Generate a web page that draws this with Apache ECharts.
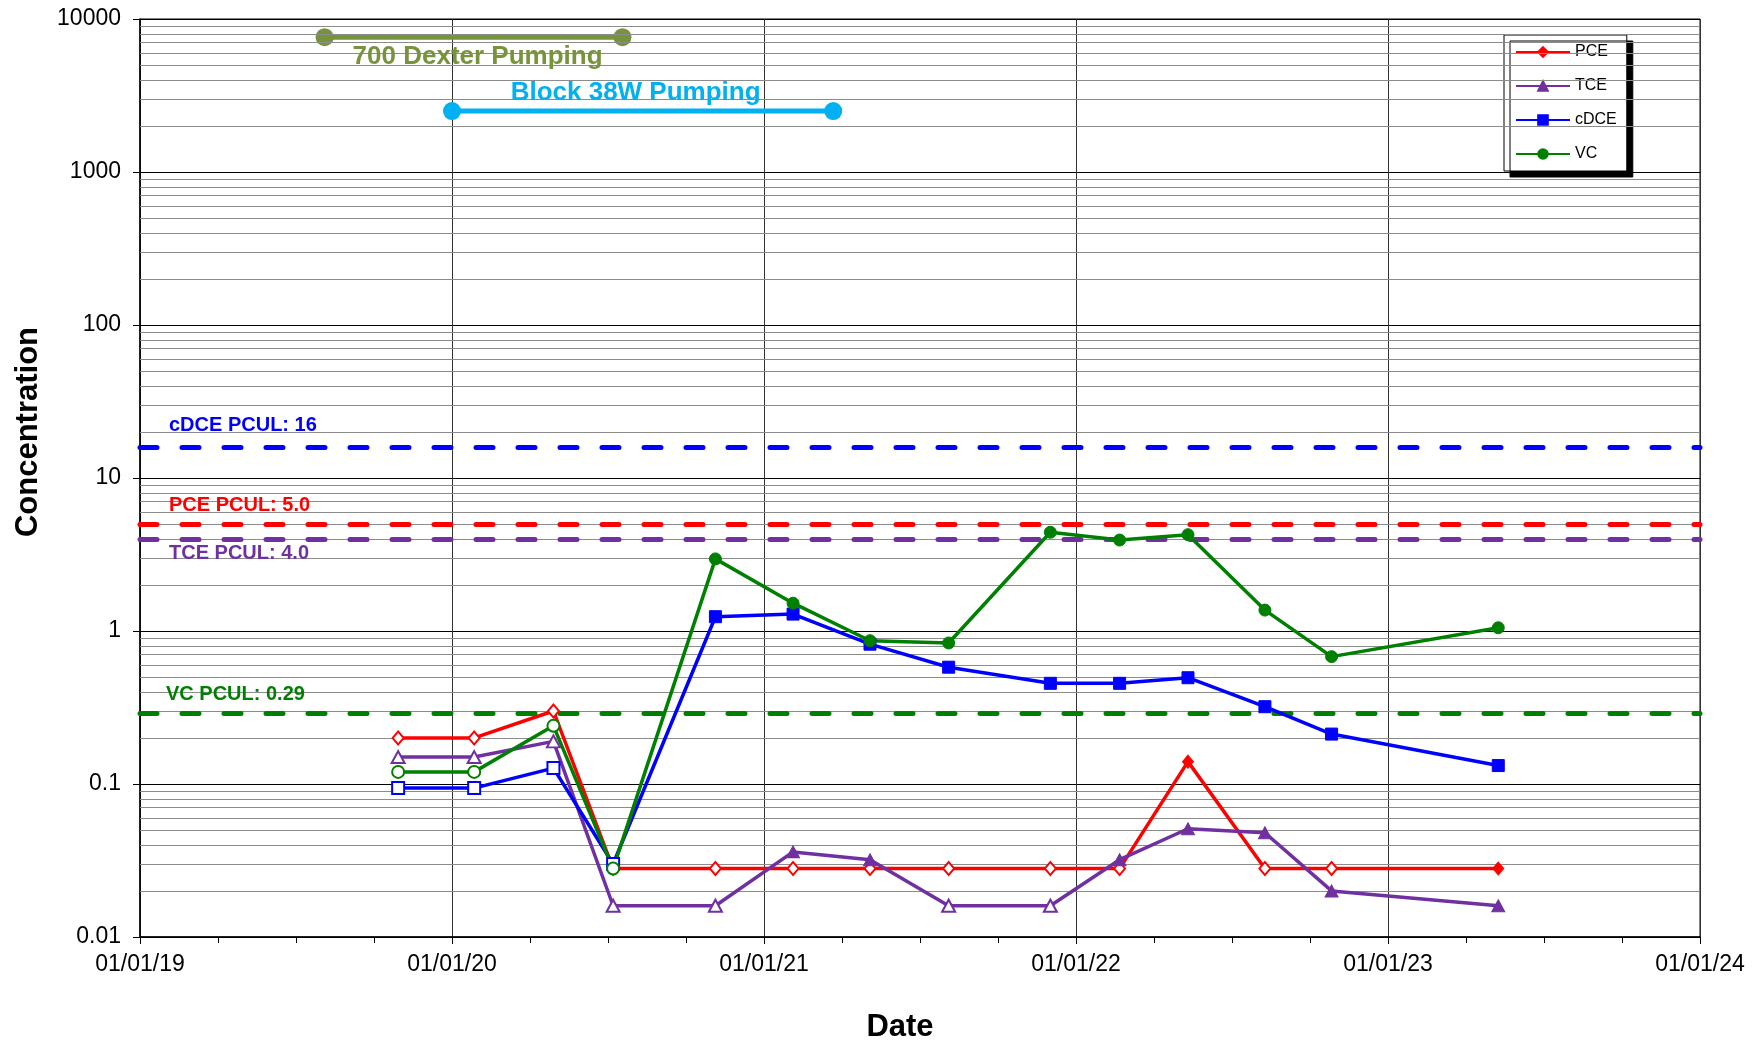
<!DOCTYPE html>
<html>
<head>
<meta charset="utf-8">
<script src="https://cdn.jsdelivr.net/npm/echarts@6/dist/echarts.min.js"></script>
<style>
html,body{margin:0;padding:0;background:#fff;}
#chart{width:1759px;height:1042px;}
</style>
</head>
<body>
<div id="chart"></div>
<script>
// ---------- data ----------
const sampleDates = ['2019-10-30','2020-01-27','2020-04-29','2020-07-08','2020-11-05','2021-02-04','2021-05-05','2021-08-05','2021-12-02','2022-02-21','2022-05-12','2022-08-10','2022-10-27','2023-05-10'];
const pceValues  = [0.20, 0.20, 0.30, 0.028, 0.028, 0.028, 0.028, 0.028, 0.028, 0.028, 0.14, 0.028, 0.028, 0.028];
const pceDetect  = [0, 0, 0, 0, 0, 0, 0, 0, 0, 0, 1, 0, 0, 1];
const tceValues  = [0.15, 0.15, 0.19, 0.016, 0.016, 0.036, 0.032, 0.016, 0.016, 0.032, 0.051, 0.048, 0.020, 0.016];
const tceDetect  = [0, 0, 0, 0, 0, 1, 1, 0, 0, 1, 1, 1, 1, 1];
const cdceValues = [0.094, 0.094, 0.127, 0.030, 1.24, 1.29, 0.82, 0.58, 0.455, 0.455, 0.495, 0.32, 0.212, 0.132];
const cdceDetect = [0, 0, 0, 0, 1, 1, 1, 1, 1, 1, 1, 1, 1, 1];
const vcValues   = [0.12, 0.12, 0.24, 0.028, 2.96, 1.52, 0.864, 0.835, 4.42, 3.93, 4.26, 1.37, 0.68, 1.05];
const vcDetect   = [0, 0, 0, 0, 1, 1, 1, 1, 1, 1, 1, 1, 1, 1];

const pculNames  = ['cDCE PCUL: 16', 'PCE PCUL: 5.0', 'TCE PCUL: 4.0', 'VC PCUL: 0.29'];
const pculValues = [16, 5.0, 4.0, 0.29];

const dexterDates = ['2019-08-05', '2020-07-19'];
const dexterLevel = 7600;
const block38Dates = ['2020-01-01', '2021-03-23'];
const block38Level = 2500;

const xYears = [2019, 2020, 2021, 2022, 2023, 2024];
const yTicks = [0.01, 0.1, 1, 10, 100, 1000, 10000];

// ---------- helpers ----------
function decYear(s) {
  const [y, m, d] = s.split('-').map(Number);
  const start = Date.UTC(y, 0, 1), end = Date.UTC(y + 1, 0, 1);
  return y + (Date.UTC(y, m - 1, d) - start) / (end - start);
}
const xs = sampleDates.map(decYear);
const FONT = '"Liberation Sans", Arial, sans-serif';

const C_PCE = '#FF0000', C_TCE = '#7030A0', C_CDCE = '#0000FF', C_VC = '#008000';
const pculColors = [C_CDCE, C_PCE, C_TCE, C_VC];

function dataSeries(name, vals, flags, color, symbol, size) {
  return {
    name: name, type: 'line', z: 5, symbol: symbol, symbolSize: size,
    showSymbol: true, animation: false, emphasis: {disabled: true},
    lineStyle: {color: color, width: 3.5},
    itemStyle: {color: color, borderColor: color, borderWidth: 1},
    data: vals.map((v, i) => ({
      value: [xs[i], v],
      itemStyle: flags[i] ? {color: color, borderColor: color, borderWidth: 1}
                          : {color: '#ffffff', borderColor: color, borderWidth: 2}
    }))
  };
}

// minor gridlines (2..9 in each decade)
const minorLines = [];
for (let k = 0; k < yTicks.length - 1; k++) {
  for (let m = 2; m <= 9; m++) minorLines.push({yAxis: +(m * yTicks[k]).toPrecision(3)});
}

const chart = echarts.init(document.getElementById('chart'), null, {renderer: 'canvas'});

const option = {
  animation: false,
  backgroundColor: '#ffffff',
  textStyle: {fontFamily: FONT},
  grid: {left: 140, right: 59, top: 19, bottom: 105, show: true, borderColor: '#000', borderWidth: 1, containLabel: false, outerBoundsMode: 'none'},
  legend: {
    data: ['PCE', 'TCE', 'cDCE', 'VC'],
    orient: 'vertical', left: 1504, top: 35,
    padding: [9, 10, 9, 11],
    itemWidth: 54, itemHeight: 12, itemGap: 18,
    backgroundColor: '#ffffff', borderColor: '#000', borderWidth: 1,
    shadowColor: '#000', shadowOffsetX: 6, shadowOffsetY: 6, shadowBlur: 0,
    textStyle: {fontSize: 16, color: '#000', fontFamily: FONT},
    selectedMode: false
  },
  xAxis: {
    type: 'value', min: xYears[0], max: xYears[xYears.length - 1], interval: 1,
    axisLine: {show: true, lineStyle: {color: '#000', width: 1.5}},
    axisTick: {show: true, length: 7, inside: false, lineStyle: {color: '#000'}},
    minorTick: {show: true, splitNumber: 4, length: 6, lineStyle: {color: '#000'}},
    splitLine: {show: true, lineStyle: {color: '#333', width: 1}},
    axisLabel: {
      fontSize: 23, color: '#000', fontFamily: FONT, margin: 16,
      formatter: v => '01/01/' + String(Math.round(v)).slice(2)
    }
  },
  yAxis: {
    type: 'log', logBase: 10, min: yTicks[0], max: yTicks[yTicks.length - 1], splitNumber: 6,
    axisLine: {show: true, lineStyle: {color: '#000', width: 1.5}},
    axisTick: {show: true, length: 7, lineStyle: {color: '#000'}},
    splitLine: {show: true, lineStyle: {color: '#000', width: 1}},
    axisLabel: {
      fontSize: 23, color: '#000', fontFamily: FONT, margin: 19,
      formatter: v => String(+(+v).toPrecision(3))
    }
  },
  series: [
    {
      name: 'minorGrid', type: 'line', data: [], z: 1, silent: true,
      markLine: {
        silent: true, symbol: 'none', animation: false,
        label: {show: false}, emphasis: {disabled: true},
        lineStyle: {color: '#8c8c8c', width: 1, type: 'solid'},
        data: minorLines
      }
    },
    {
      name: 'pcul', type: 'line', data: [], z: 3, silent: true,
      markLine: {
        silent: true, symbol: 'none', animation: false,
        label: {show: false}, emphasis: {disabled: true},
        data: pculValues.map((v, i) => ({
          yAxis: v,
          lineStyle: {color: pculColors[i], width: 5, type: [17, 25], cap: 'round'}
        }))
      }
    },
    {
      name: 'dexter', type: 'line', z: 4, symbol: 'circle', symbolSize: 18,
      emphasis: {disabled: true}, silent: true,
      lineStyle: {color: '#77933C', width: 5}, itemStyle: {color: '#77933C'},
      data: dexterDates.map(d => [decYear(d), dexterLevel])
    },
    {
      name: 'block38', type: 'line', z: 4, symbol: 'circle', symbolSize: 18,
      emphasis: {disabled: true}, silent: true,
      lineStyle: {color: '#00B0F0', width: 5}, itemStyle: {color: '#00B0F0'},
      data: block38Dates.map(d => [decYear(d), block38Level])
    },
    dataSeries('PCE', pceValues, pceDetect, C_PCE, 'diamond', [11, 13]),
    dataSeries('TCE', tceValues, tceDetect, C_TCE, 'triangle', [13, 12]),
    dataSeries('cDCE', cdceValues, cdceDetect, C_CDCE, 'rect', 12),
    dataSeries('VC', vcValues, vcDetect, C_VC, 'circle', 12)
  ]
};
chart.setOption(option);

// ---------- annotation texts positioned through the chart's scales ----------
const px = (x, y) => chart.convertToPixel({gridIndex: 0}, [x, y]);
const pculOffsets = [[29, -21], [29, -19], [29, 15], [26, -19]];
const graphics = [];
pculValues.forEach((v, i) => {
  const p = px(xYears[0], v);
  graphics.push({
    type: 'text', silent: true, z: 10,
    style: {
      text: pculNames[i], x: p[0] + pculOffsets[i][0], y: p[1] + pculOffsets[i][1],
      fill: pculColors[i], font: 'bold 20px ' + FONT,
      textAlign: 'left', textVerticalAlign: 'middle'
    }
  });
});
const dx = dexterDates.map(decYear), bx = block38Dates.map(decYear);
const dm = px((dx[0] + dx[1]) / 2, dexterLevel);
const bm = px((bx[0] + bx[1]) / 2, block38Level);
graphics.push({
  type: 'text', silent: true, z: 10,
  style: {text: '700 Dexter Pumping', x: dm[0] + 4, y: dm[1] + 20, fill: '#77933C',
          font: 'bold 26px ' + FONT, textAlign: 'center', textVerticalAlign: 'middle'}
});
graphics.push({
  type: 'text', silent: true, z: 10,
  style: {text: 'Block 38W Pumping', x: bm[0] - 7, y: bm[1] - 18, fill: '#00B0F0',
          font: 'bold 26px ' + FONT, textAlign: 'center', textVerticalAlign: 'middle'}
});
// axis titles
graphics.push({
  type: 'text', silent: true, x: 28, y: 432, rotation: Math.PI / 2,
  style: {text: 'Concentration', x: 0, y: 0, fill: '#000', font: 'bold 31px ' + FONT,
          textAlign: 'center', textVerticalAlign: 'middle'}
});
graphics.push({
  type: 'text', silent: true,
  style: {text: 'Date', x: 900, y: 1027, fill: '#000', font: 'bold 31px ' + FONT,
          textAlign: 'center', textVerticalAlign: 'middle'}
});
chart.setOption({graphic: graphics});
</script>
</body>
</html>
